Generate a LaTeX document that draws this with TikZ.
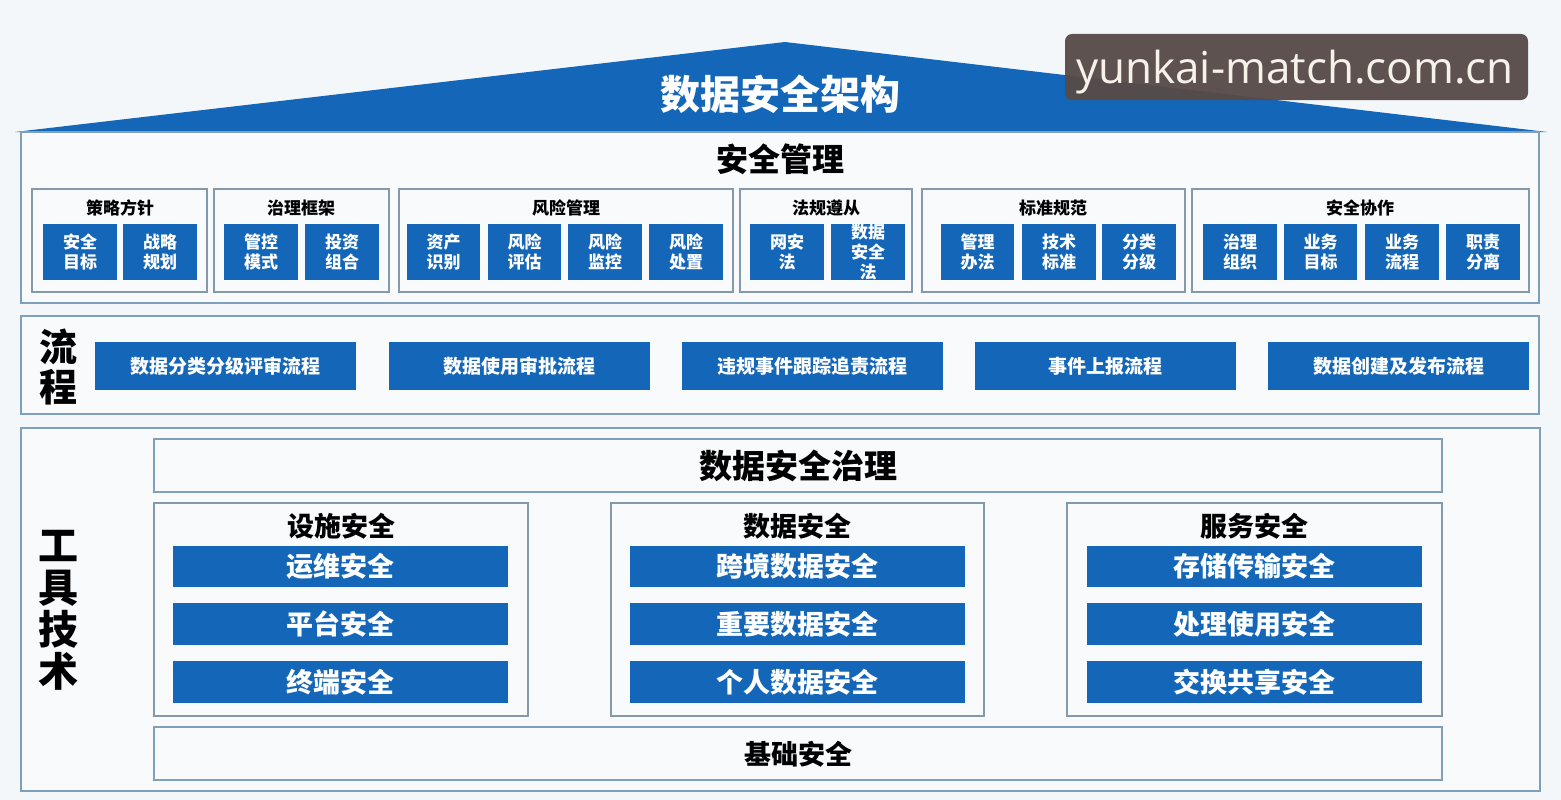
\documentclass[tikz,border=0pt]{standalone}
\usepackage{fontspec}
\setmainfont{Noto Sans CJK SC}
\newfontfamily\wmfont{Open Sans}
\definecolor{myblue}{HTML}{1466B8}
\definecolor{frameC}{HTML}{7FA0BA}
\definecolor{groupC}{HTML}{8499AC}
\definecolor{bgC}{HTML}{F3F7FA}
\definecolor{boxC}{HTML}{F8FAFC}
\definecolor{wmC}{HTML}{574A47}
\definecolor{wmT}{HTML}{F6F2EA}
\newcommand\fs[1]{\fontsize{#1}{#1}\selectfont\bfseries}
\newcommand\bx[7]{\node[#1, minimum width={(#5-#3)*1pt}, minimum height={(#6-#4)*1pt}] (#2) at ({(#3+#5)/2},{(#4+#6)/2}) {#7};}
\tikzset{
  frame/.style={draw=frameC, line width=1.3pt, fill=boxC, inner sep=0pt},
  grp/.style={draw=groupC, line width=1.1pt, fill=boxC, inner sep=0pt},
  bluebox/.style={fill=myblue, text=white, inner sep=0pt, align=center},
  small/.style={bluebox, font=\fontsize{17}{20}\selectfont\bfseries},
  flowbar/.style={bluebox, font=\fs{19}},
  bar/.style={bluebox, font=\fs{27}},
  gtitle/.style={inner sep=0pt, font=\fs{17}, text=black},
  ttitle/.style={inner sep=0pt, font=\fs{27}, text=black},
}
\begin{document}
\begin{tikzpicture}[x=1pt, y=-1pt]
\useasboundingbox (0,0) rectangle (1561,800);
\fill[bgC] (0,0) rectangle (1561,800);
% roof
\fill[myblue] (15,132) -- (785,42) -- (1547,132) -- cycle;
\node[inner sep=0pt, text=white, font=\fs{40}] (roof) at (780,94) {数据安全架构};
% security management
\bx{frame}{mgmt}{21}{132}{1539}{303}{}
\node[inner sep=0pt, font=\fs{32}] (mgmtT) at (780,159) {安全管理};
\bx{grp}{g1}{32}{189}{207}{292}{}
\bx{grp}{g2}{214}{189}{389}{292}{}
\bx{grp}{g3}{399}{189}{733}{292}{}
\bx{grp}{g4}{740}{189}{912}{292}{}
\bx{grp}{g5}{922}{189}{1185}{292}{}
\bx{grp}{g6}{1192}{189}{1529}{292}{}
\node[gtitle] (t1) at (120,208) {策略方针};
\node[gtitle] (t2) at (301,208) {治理框架};
\node[gtitle] (t3) at (566,208) {风险管理};
\node[gtitle] (t4) at (826,208) {法规遵从};
\node[gtitle] (t5) at (1053,208) {标准规范};
\node[gtitle] (t6) at (1360,208) {安全协作};
\bx{small}{s1}{43}{224}{117}{280}{安全\\目标}
\bx{small}{s2}{123}{224}{197}{280}{战略\\规划}
\bx{small}{s3}{224}{224}{298}{280}{管控\\模式}
\bx{small}{s4}{305}{224}{379}{280}{投资\\组合}
\bx{small}{s5}{407}{224}{480}{280}{资产\\识别}
\bx{small}{s6}{488}{224}{561}{280}{风险\\评估}
\bx{small}{s7}{568}{224}{642}{280}{风险\\监控}
\bx{small}{s8}{649}{224}{723}{280}{风险\\处置}
\bx{small}{s9}{750}{224}{824}{280}{网安\\法}
\bx{small}{s10}{831}{224}{905}{280}{\fontsize{17}{19}\selectfont 数据\\安全\\法}
\bx{small}{s11}{941}{224}{1014}{280}{管理\\办法}
\bx{small}{s12}{1022}{224}{1096}{280}{技术\\标准}
\bx{small}{s13}{1102}{224}{1176}{280}{分类\\分级}
\bx{small}{s14}{1203}{224}{1277}{280}{治理\\组织}
\bx{small}{s15}{1284}{224}{1357}{280}{业务\\目标}
\bx{small}{s16}{1365}{224}{1439}{280}{业务\\流程}
\bx{small}{s17}{1446}{224}{1520}{280}{职责\\分离}
% flow
\bx{frame}{flow}{21}{316}{1539}{414}{}
\node[inner sep=0pt, align=center, font=\fontsize{38}{40}\selectfont\bfseries] (flowT) at (58,367) {流\\程};
\bx{flowbar}{f1}{95}{342}{356}{390}{数据分类分级评审流程}
\bx{flowbar}{f2}{389}{342}{650}{390}{数据使用审批流程}
\bx{flowbar}{f3}{682}{342}{943}{390}{违规事件跟踪追责流程}
\bx{flowbar}{f4}{975}{342}{1236}{390}{事件上报流程}
\bx{flowbar}{f5}{1268}{342}{1529}{390}{数据创建及发布流程}
% tools
\bx{frame}{tools}{21}{428}{1540}{791}{}
\node[inner sep=0pt, align=center, font=\fontsize{40}{42}\selectfont\bfseries] (toolsT) at (58,610) {工\\具\\技\\术};
\bx{frame}{gov}{154}{439}{1442}{492}{}
\node[inner sep=0pt, font=\fs{33}] (govT) at (798,466) {数据安全治理};
\bx{frame}{base}{154}{727}{1442}{780}{}
\node[ttitle] (baseT) at (798,754) {基础安全};
\bx{grp}{G1}{154}{503}{528}{716}{}
\bx{grp}{G2}{611}{503}{984}{716}{}
\bx{grp}{G3}{1067}{503}{1442}{716}{}
\node[ttitle] (G1T) at (341,526) {设施安全};
\node[ttitle] (G2T) at (797,526) {数据安全};
\node[ttitle] (G3T) at (1254,526) {服务安全};
\bx{bar}{b11}{173}{546}{508}{587}{运维安全}
\bx{bar}{b12}{173}{603}{508}{645}{平台安全}
\bx{bar}{b13}{173}{661}{508}{703}{终端安全}
\bx{bar}{b21}{630}{546}{965}{587}{跨境数据安全}
\bx{bar}{b22}{630}{603}{965}{645}{重要数据安全}
\bx{bar}{b23}{630}{661}{965}{703}{个人数据安全}
\bx{bar}{b31}{1087}{546}{1422}{587}{存储传输安全}
\bx{bar}{b32}{1087}{603}{1422}{645}{处理使用安全}
\bx{bar}{b33}{1087}{661}{1422}{703}{交换共享安全}
% watermark
\fill[wmC, fill opacity=0.95, rounded corners=7pt] (1065,34) rectangle (1528,100);
\node[inner sep=0pt, text=wmT, font=\wmfont\fontsize{44}{44}\selectfont] (wm) at (1295,72) {yunkai-match.com.cn};
\end{tikzpicture}
\end{document}
